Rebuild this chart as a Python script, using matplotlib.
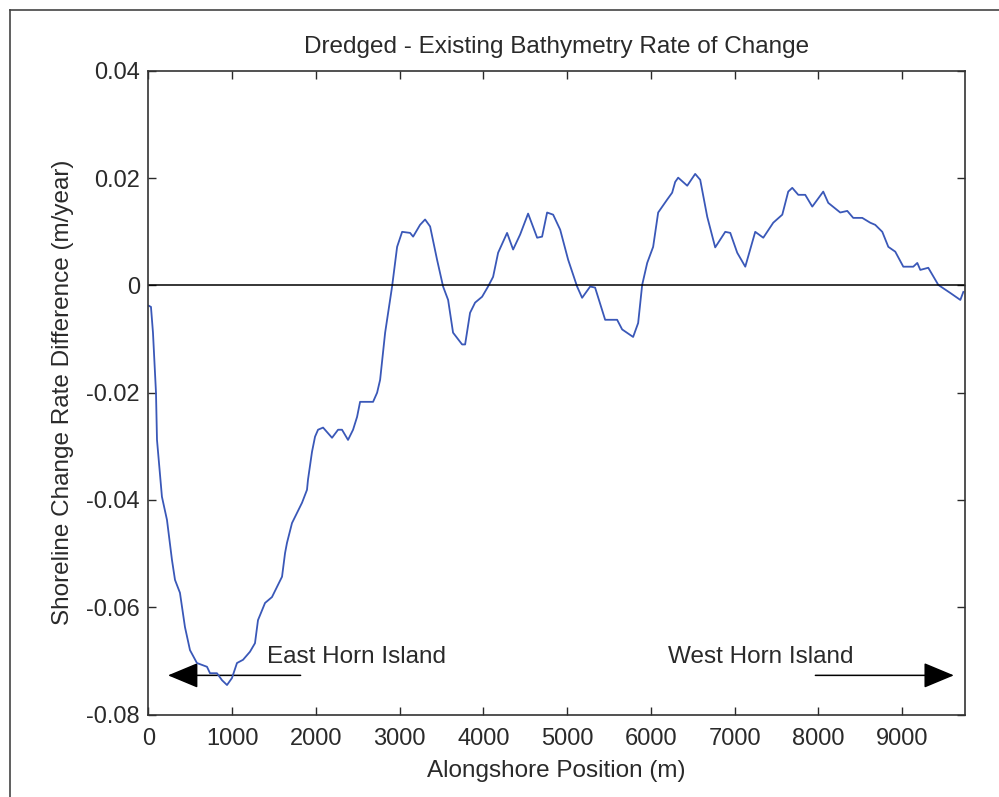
import matplotlib.pyplot as plt
from matplotlib.lines import Line2D
from matplotlib.patches import FancyArrowPatch

plt.rcParams['font.family'] = ['Liberation Sans', 'DejaVu Sans']

# alongshore position (m) and rate difference (m/year)
pos = [6, 30, 54, 78, 90, 102, 161, 221, 281, 317, 376, 436, 496, 579, 699,
       735, 818, 878, 938, 997, 1057, 1129, 1212, 1272, 1308, 1392, 1475,
       1535, 1595, 1631, 1654, 1714, 1774, 1834, 1893, 1905, 1953, 1989,
       2025, 2085, 2192, 2264, 2311, 2383, 2443, 2491, 2527, 2682, 2730,
       2766, 2826, 2909, 2969, 3029, 3124, 3160, 3243, 3303, 3363, 3446,
       3518, 3578, 3637, 3745, 3781, 3840, 3900, 3984, 4055, 4115, 4175,
       4282, 4354, 4438, 4533, 4641, 4700, 4760, 4832, 4916, 5011, 5118,
       5178, 5274, 5333, 5453, 5596, 5656, 5787, 5847, 5895, 5955, 6026,
       6086, 6193, 6253, 6289, 6325, 6433, 6528, 6588, 6672, 6767, 6887,
       6947, 7030, 7126, 7245, 7341, 7460, 7568, 7639, 7687, 7759, 7842,
       7926, 8057, 8117, 8260, 8344, 8415, 8523, 8618, 8678, 8762, 8834,
       8917, 9013, 9132, 9180, 9216, 9311, 9431, 9574, 9694, 9730]
rate = [-0.0038, -0.0040, -0.0088, -0.0163, -0.0200, -0.0288, -0.0394,
        -0.0437, -0.0512, -0.0549, -0.0573, -0.0637, -0.0680, -0.0704,
        -0.0711, -0.0723, -0.0723, -0.0736, -0.0745, -0.0732, -0.0704,
        -0.0698, -0.0683, -0.0667, -0.0624, -0.0592, -0.0581, -0.0562,
        -0.0543, -0.0499, -0.0480, -0.0443, -0.0424, -0.0405, -0.0381,
        -0.0362, -0.0310, -0.0282, -0.0269, -0.0265, -0.0284, -0.0269,
        -0.0269, -0.0288, -0.0269, -0.0245, -0.0217, -0.0217, -0.0200,
        -0.0176, -0.0088, -0.0002, 0.0072, 0.0100, 0.0098, 0.0091, 0.0113,
        0.0123, 0.0110, 0.0048, -0.0002, -0.0027, -0.0088, -0.0110, -0.0110,
        -0.0051, -0.0032, -0.0021, -0.0002, 0.0016, 0.0061, 0.0098, 0.0067,
        0.0095, 0.0134, 0.0089, 0.0091, 0.0136, 0.0132, 0.0104, 0.0048,
        -0.0002, -0.0023, -0.0002, -0.0004, -0.0064, -0.0064, -0.0082,
        -0.0096, -0.0070, 0.0001, 0.0042, 0.0072, 0.0136, 0.0160, 0.0173,
        0.0193, 0.0201, 0.0186, 0.0208, 0.0197, 0.0128, 0.0071, 0.0100,
        0.0098, 0.0061, 0.0035, 0.0100, 0.0089, 0.0117, 0.0132, 0.0175,
        0.0182, 0.0169, 0.0169, 0.0147, 0.0175, 0.0154, 0.0136, 0.0139,
        0.0126, 0.0126, 0.0117, 0.0113, 0.0100, 0.0072, 0.0063, 0.0035,
        0.0035, 0.0042, 0.0029, 0.0033, 0.0001, -0.0014, -0.0027, -0.0012]

xticks = [0, 1000, 2000, 3000, 4000, 5000, 6000, 7000, 8000, 9000]
yticks = [0.04, 0.02, 0, -0.02, -0.04, -0.06, -0.08]
ytick_labels = ['0.04', '0.02', '0', '-0.02', '-0.04', '-0.06', '-0.08']

fig = plt.figure(figsize=(9.99, 7.97), dpi=100)
ax = fig.add_axes([0.1486, 0.1035, 0.8174, 0.8075])

ax.plot(pos, rate, color='#3a58b8', lw=1.3)
ax.axhline(0, color='black', lw=1.1)

ax.set_xlim(0, 9750)
ax.set_ylim(-0.08, 0.04)
ax.set_xticks(xticks)
ax.set_xticklabels([str(t) for t in xticks])
ax.set_yticks(yticks)
ax.set_yticklabels(ytick_labels)
ax.tick_params(direction='in', length=6, width=1, top=True, right=True,
               labelsize=17, colors='#2a2a2a')
ax.tick_params(axis='x', pad=10)
ax.tick_params(axis='y', pad=6)
for s in ax.spines.values():
    s.set_linewidth(1.2)
    s.set_color('#333333')

ax.set_title('Dredged - Existing Bathymetry Rate of Change', fontsize=17.5,
             color='#2a2a2a', pad=13)
ax.set_xlabel('Alongshore Position (m)', fontsize=17.5, color='#2a2a2a', labelpad=7)
ax.set_ylabel('Shoreline Change Rate Difference (m/year)', fontsize=17.5,
              color='#2a2a2a', labelpad=9)

# island arrows
ax.add_patch(FancyArrowPatch((1850, -0.0727), (200, -0.0727),
             arrowstyle='-|>,head_length=12,head_width=5', color='black',
             lw=1.1, mutation_scale=1.6))
ax.add_patch(FancyArrowPatch((7930, -0.0727), (9650, -0.0727),
             arrowstyle='-|>,head_length=12,head_width=5', color='black',
             lw=1.1, mutation_scale=1.6))
ax.text(1415, -0.0692, 'East Horn Island', fontsize=17.5, color='#2a2a2a',
        ha='left', va='center')
ax.text(6205, -0.0692, 'West Horn Island', fontsize=17.5, color='#2a2a2a',
        ha='left', va='center')

# outer frame (top and left edges)
fig.add_artist(Line2D([0.010, 1.0], [1 - 10 / 797, 1 - 10 / 797],
                      transform=fig.transFigure, color='#444444', lw=1.2))
fig.add_artist(Line2D([0.010, 0.010], [0.0, 1 - 10 / 797],
                      transform=fig.transFigure, color='#444444', lw=1.2))

fig.savefig('out.png', dpi=100, facecolor='white')
